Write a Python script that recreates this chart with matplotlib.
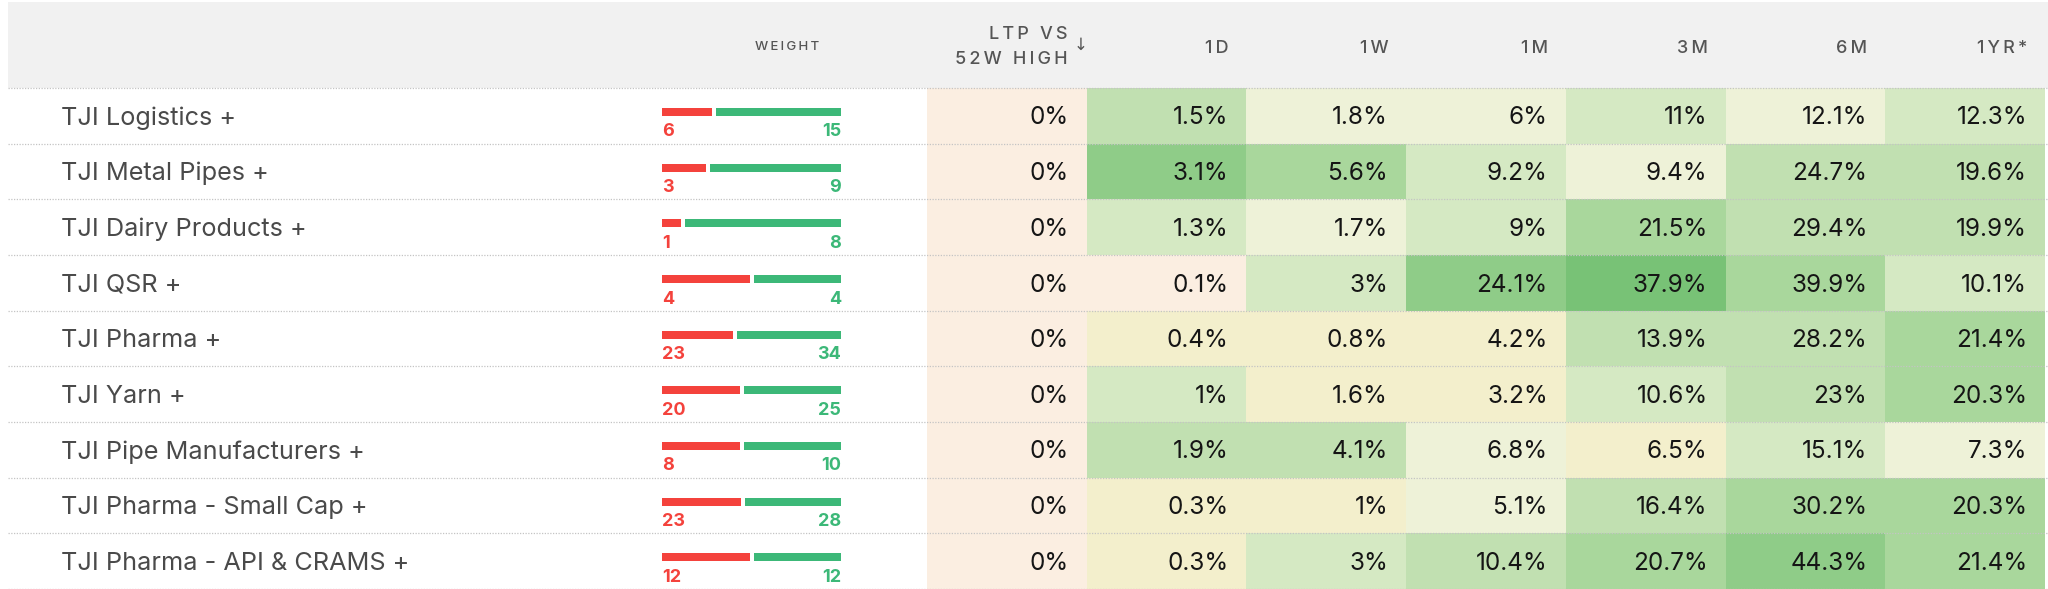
import matplotlib
matplotlib.use("Agg")
import matplotlib.pyplot as plt
import numpy as np
from matplotlib.colors import ListedColormap, BoundaryNorm
from matplotlib.patches import Rectangle
from matplotlib.lines import Line2D
from matplotlib.transforms import blended_transform_factory

plt.rcParams['font.family'] = ['Inter', 'DejaVu Sans']

# ---------------- data ----------------
names = ["TJI Logistics +", "TJI Metal Pipes +", "TJI Dairy Products +", "TJI QSR +",
         "TJI Pharma +", "TJI Yarn +", "TJI Pipe Manufacturers +",
         "TJI Pharma - Small Cap +", "TJI Pharma - API & CRAMS +"]
weight_neg = [6, 3, 1, 4, 23, 20, 8, 23, 12]
weight_pos = [15, 9, 8, 4, 34, 25, 10, 28, 12]
col_labels = ["LTP VS\n52W HIGH", "1D", "1W", "1M", "3M", "6M", "1YR*"]
ltp_vs_high = [0, 0, 0, 0, 0, 0, 0, 0, 0]
ret_1d = [1.5, 3.1, 1.3, 0.1, 0.4, 1, 1.9, 0.3, 0.3]
ret_1w = [1.8, 5.6, 1.7, 3, 0.8, 1.6, 4.1, 1, 3]
ret_1m = [6, 9.2, 9, 24.1, 4.2, 3.2, 6.8, 5.1, 10.4]
ret_3m = [11, 9.4, 21.5, 37.9, 13.9, 10.6, 6.5, 16.4, 20.7]
ret_6m = [12.1, 24.7, 29.4, 39.9, 28.2, 23, 15.1, 30.2, 44.3]
ret_1y = [12.3, 19.6, 19.9, 10.1, 21.4, 20.3, 7.3, 20.3, 21.4]

# colour class of each cell as shown (0 = peach ... 7 = darkest green)
shade_ltp = [0, 0, 0, 0, 0, 0, 0, 0, 0]
shade_1d = [4, 6, 3, 0, 1, 3, 4, 1, 1]
shade_1w = [2, 5, 2, 3, 1, 1, 4, 1, 3]
shade_1m = [2, 3, 3, 6, 1, 1, 2, 2, 4]
shade_3m = [3, 2, 5, 7, 4, 3, 1, 4, 5]
shade_6m = [2, 4, 4, 5, 4, 4, 3, 5, 6]
shade_1y = [3, 4, 4, 3, 5, 5, 2, 5, 5]

# ---------------- styling ----------------
W, H = 2048, 589
shade_colors = ["#fbeee1", "#f3efcc", "#eef2d8", "#d5e9c3", "#c1e0b1",
                "#a9d79c", "#8fcc88", "#78c276"]
RED = "#f4423c"
GREEN = "#3cb878"
HEADER_BG = "#f1f1f1"
HEADER_FG = "#555555"
NAME_FG = "#4a4a4a"
SEP = "#c4c4c4"

fig = plt.figure(figsize=(W / 100, H / 100), dpi=100)
fig.patch.set_facecolor("white")

def fx(px):
    return px / W

def fy(py):
    return 1 - py / H

def spaced(s, sep="\u2009"):
    return sep.join(s)

table_top, table_bot = 88, 589
n_rows = len(names)

# header background
fig.add_artist(Rectangle((fx(8), fy(88)), fx(2048) - fx(8), fy(2) - fy(88),
                         transform=fig.transFigure, facecolor=HEADER_BG,
                         edgecolor="none", zorder=0))

# heat-map axes
hx0, hx1 = 927, 2045
ax_h = fig.add_axes([fx(hx0), fy(table_bot), fx(hx1) - fx(hx0), fy(table_top) - fy(table_bot)])
values = np.array([ltp_vs_high, ret_1d, ret_1w, ret_1m, ret_3m, ret_6m, ret_1y]).T
shades = np.array([shade_ltp, shade_1d, shade_1w, shade_1m, shade_3m, shade_6m, shade_1y]).T
cmap = ListedColormap(shade_colors)
norm = BoundaryNorm(np.arange(-0.5, len(shade_colors) + 0.5), cmap.N)
n_cols = values.shape[1]
ax_h.pcolormesh(np.arange(n_cols + 1), np.arange(n_rows + 1), shades,
                cmap=cmap, norm=norm, shading="flat")
ax_h.set_xlim(0, n_cols)
ax_h.set_ylim(n_rows, 0)
ax_h.axis("off")

col_w_px = (hx1 - hx0) / n_cols
row_h_px = (table_bot - table_top) / n_rows
pad = 18 / col_w_px
base_off = 36.5 / row_h_px

for i in range(n_rows):
    for j in range(n_cols):
        ax_h.text(j + 1 - pad, i + base_off, f"{values[i, j]:g}%",
                  ha="right", va="baseline", fontsize=17.5, color="#151515")

# names
tr_name = blended_transform_factory(fig.transFigure, ax_h.transData)
for i, nm in enumerate(names):
    ax_h.text(fx(61), i + base_off, nm, transform=tr_name, ha="left",
              va="baseline", fontsize=18.2, color=NAME_FG, clip_on=False)

# weight bars
wx0, wx1 = 662, 841
ax_w = fig.add_axes([fx(wx0), fy(table_bot), fx(wx1) - fx(wx0), fy(table_top) - fy(table_bot)])
ax_w.set_xlim(0, 1)
ax_w.set_ylim(n_rows, 0)
ax_w.axis("off")
gap = 4 / (wx1 - wx0)
neg = np.array(weight_neg, float)
pos = np.array(weight_pos, float)
tot = neg + pos
red_w = neg / tot * (1 - gap)
green_w = pos / tot * (1 - gap)
rows = np.arange(n_rows)
bar_c = (20 + 4) / row_h_px
bar_h = 8 / row_h_px
ax_w.barh(rows + bar_c, red_w, left=0, height=bar_h, color=RED)
ax_w.barh(rows + bar_c, green_w, left=red_w + gap, height=bar_h, color=GREEN)
num_off = 48.5 / row_h_px
for i in range(n_rows):
    ax_w.text(0, i + num_off, f"{weight_neg[i]}", ha="left", va="baseline",
              fontsize=13, fontweight="bold", color=RED)
    ax_w.text(1, i + num_off, f"{weight_pos[i]}", ha="right", va="baseline",
              fontsize=13, fontweight="bold", color=GREEN)

# separators (dotted)
for k in range(n_rows + 1):
    ax_h.add_line(Line2D([fx(8), fx(2048)], [k, k], transform=tr_name,
                         color=SEP, lw=0.9, linestyle=(0, (1, 1.2)),
                         clip_on=False, zorder=5))

# header labels
tr_head = blended_transform_factory(ax_h.transData, fig.transFigure)
for j, lab in enumerate(col_labels):
    if j == 0:
        top, bottom = lab.split("\n")
        ax_h.text(j + 1 - 19 / col_w_px, fy(39), spaced(top), transform=tr_head,
                  ha="right", va="baseline", fontsize=13, fontweight="medium",
                  color=HEADER_FG, clip_on=False)
        ax_h.text(j + 1 - 19 / col_w_px, fy(64), spaced(bottom), transform=tr_head,
                  ha="right", va="baseline", fontsize=13, fontweight="medium",
                  color=HEADER_FG, clip_on=False)
        ax_h.text(j + 1 + 1 / col_w_px, fy(50), "\u2193", transform=tr_head,
                  ha="right", va="baseline", fontsize=12, color=HEADER_FG,
                  family=["DejaVu Sans"], clip_on=False)
    else:
        ax_h.text(j + 1 - 18 / col_w_px, fy(53), spaced(lab), transform=tr_head,
                  ha="right", va="baseline", fontsize=13, fontweight="medium",
                  color=HEADER_FG, clip_on=False)

fig.text(fx(819), fy(50.5), spaced("WEIGHT"), ha="right", va="baseline",
         fontsize=9.5, fontweight="medium", color=HEADER_FG)

fig.savefig("out.png", dpi=100, facecolor="white")
